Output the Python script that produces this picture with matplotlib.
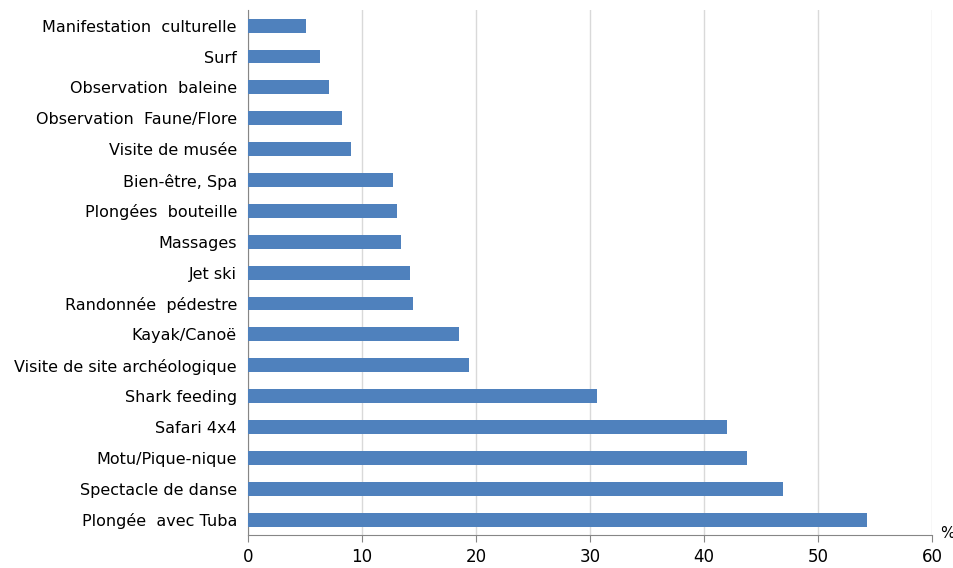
import matplotlib

matplotlib.use("Agg")
import matplotlib.pyplot as plt  # noqa: E402

# Share of visitors who took part in each activity (%)
activities = [
    "Plongée  avec Tuba",
    "Spectacle de danse",
    "Motu/Pique-nique",
    "Safari 4x4",
    "Shark feeding",
    "Visite de site archéologique",
    "Kayak/Canoë",
    "Randonnée  pédestre",
    "Jet ski",
    "Massages",
    "Plongées  bouteille",
    "Bien-être, Spa",
    "Visite de musée",
    "Observation  Faune/Flore",
    "Observation  baleine",
    "Surf",
    "Manifestation  culturelle",
]
shares = [54.3, 46.9, 43.8, 42.0, 30.6, 19.4, 18.5, 14.5, 14.2, 13.4, 13.1, 12.7, 9.0, 8.2, 7.1, 6.35, 5.1]
x_ticks = [0, 10, 20, 30, 40, 50, 60]

BAR_COLOR = "#4F81BD"
GRID_COLOR = "#D9D9D9"
AXIS_COLOR = "#868686"

fig = plt.figure(figsize=(9.54, 5.68), dpi=100)
ax = fig.add_axes([0.26, 0.058, 0.717, 0.924])

pos = range(len(activities))
ax.barh(pos, shares, height=0.45, color=BAR_COLOR, zorder=3)

ax.set_xlim(0, 60)
ax.set_ylim(-0.5, 16.5)
ax.set_xticks(x_ticks)
ax.set_xticklabels([str(t) for t in x_ticks], fontsize=12)
ax.set_yticks(list(pos))
ax.set_yticklabels(activities, fontsize=11.5)

ax.xaxis.grid(True, color=GRID_COLOR, lw=1, zorder=0)
ax.set_axisbelow(True)

for side in ("top", "right"):
    ax.spines[side].set_visible(False)
ax.spines["left"].set_color(AXIS_COLOR)
ax.spines["bottom"].set_color(AXIS_COLOR)
ax.tick_params(axis="y", length=0, pad=8)
ax.tick_params(axis="x", length=5, color=AXIS_COLOR, direction="out", pad=4)

# unit marker sitting just right of the axis end
ax.text(1.023, 0.003, "%", transform=ax.transAxes, fontsize=11, ha="center", va="center")

plt.savefig("out.png", dpi=100)
plt.close()
